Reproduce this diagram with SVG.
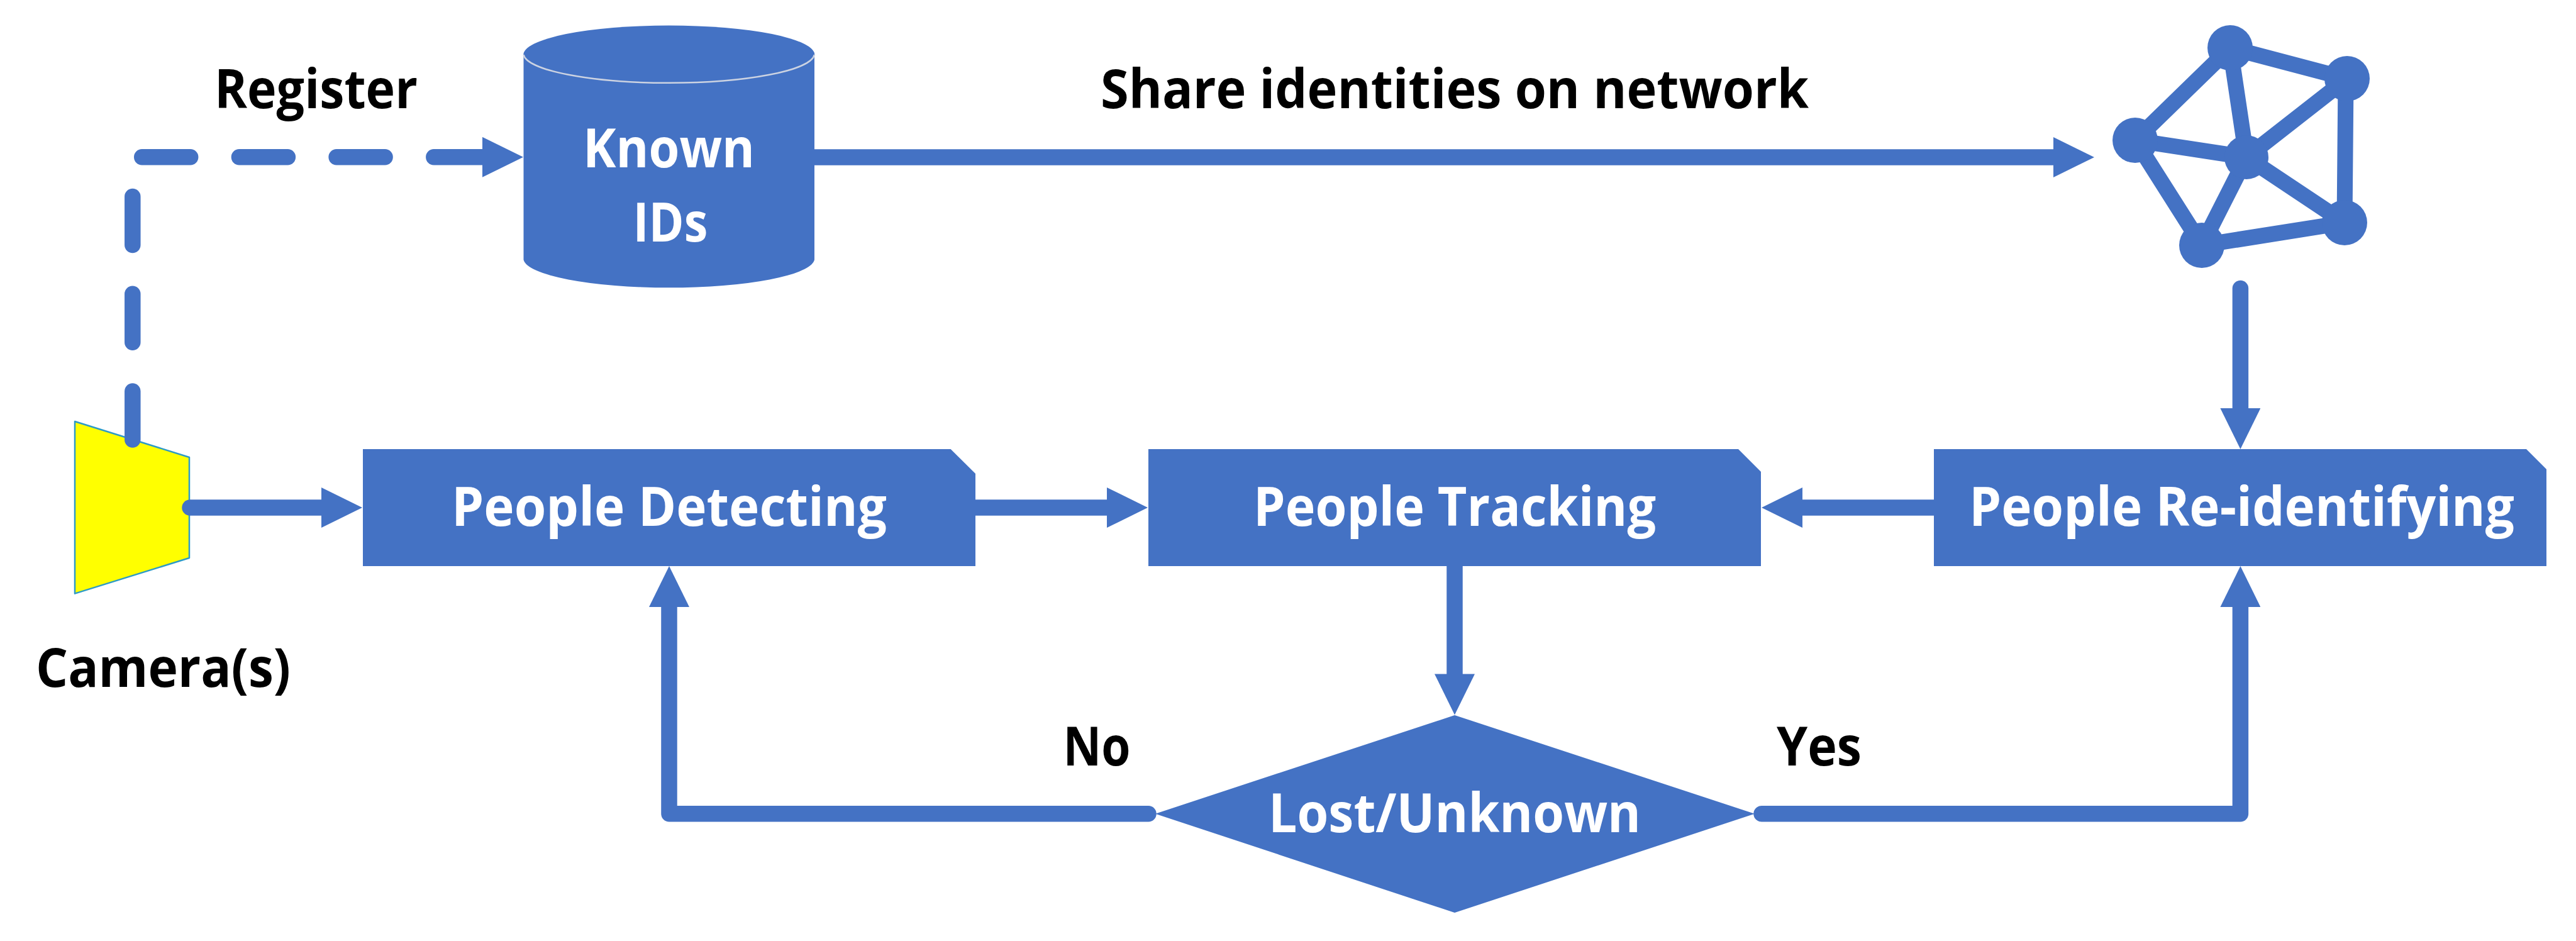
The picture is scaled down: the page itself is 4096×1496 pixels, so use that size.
<svg xmlns="http://www.w3.org/2000/svg" width="4096" height="1496" viewBox="0 0 4096 1496">
<style>
.s{fill:#4472c4}
.c{fill:none;stroke:#4472c4;stroke-width:25.5;stroke-linecap:round;stroke-linejoin:round}
.e{stroke:#4472c4;stroke-width:25;fill:none}
text{font-family:"Open Sans","Noto Sans","Liberation Sans",sans-serif;font-weight:700;font-size:86px}
.w{fill:#fff}
.k{fill:#000}
</style>
<defs>
<marker id="arrow" markerUnits="userSpaceOnUse" markerWidth="66" markerHeight="64" viewBox="0 0 66 64" refX="1" refY="32" orient="auto"><path d="M0 0L65 32L0 64Z" fill="#4472c4"/></marker>
</defs>
<rect width="4096" height="1496" fill="#fff"/>
<g id="camera">
<path d="M119 670L301 727V887L119 943.6Z" fill="#ff0" stroke="#2e9bc6" stroke-width="2.5" stroke-linejoin="round"/>
</g>
<g id="known-ids">
<path class="s" d="M832.5 87V413A231.5 46.5 0 0 0 1295 413V87Z"/>
<ellipse class="s" cx="1063.8" cy="87" rx="231.5" ry="46.5"/>
<path d="M832.5 87A231.5 47 0 0 0 1295 87" fill="none" stroke="#ccd3e2" stroke-width="2.5"/>
<text class="w" x="927" y="266" textLength="273" lengthAdjust="spacingAndGlyphs">Known</text>
<text class="w" x="1006.5" y="383.6" textLength="119" lengthAdjust="spacingAndGlyphs">IDs</text>
</g>
<g id="network">
<path class="e" d="M3546 76L3395 223M3546 76L3732 125M3546 76L3572 250M3395 223L3572 250M3395 223L3501 390M3572 250L3732 125M3572 250L3728 354M3572 250L3501 390M3730 125L3728 354M3501 390L3728 354"/>
<circle class="s" cx="3546" cy="76" r="36"/>
<circle class="s" cx="3732" cy="125" r="36"/>
<circle class="s" cx="3395" cy="223" r="36"/>
<circle class="s" cx="3572" cy="250" r="35"/>
<circle class="s" cx="3728" cy="354" r="36"/>
<circle class="s" cx="3501" cy="390" r="36"/>
</g>
<g id="people-detecting">
<path class="s" d="M577 714H1511.6L1551 753V900H577Z"/>
<text class="w" x="718" y="836" textLength="692" lengthAdjust="spacingAndGlyphs">People Detecting</text>
</g>
<g id="people-tracking">
<path class="s" d="M1826 714H2764L2800 750V900H1826Z"/>
<text class="w" x="1993" y="836" textLength="640" lengthAdjust="spacingAndGlyphs">People Tracking</text>
</g>
<g id="people-reidentifying">
<path class="s" d="M3075 714H4017L4049 746V900H3075Z"/>
<text class="w" x="3131" y="836" textLength="867" lengthAdjust="spacingAndGlyphs">People Re-identifying</text>
</g>
<g id="lost-unknown">
<path class="s" d="M2313 1137L2790 1293.7L2313 1451L1837 1293.7Z"/>
<text class="w" x="2017" y="1323" textLength="592" lengthAdjust="spacingAndGlyphs">Lost/Unknown</text>
</g>
<g id="connectors">
<path class="c" stroke-dasharray="77 77.7" d="M210.8 699V249.8H768" marker-end="url(#arrow)"/>
<path class="c" style="stroke-linecap:butt" d="M1295 250H3266" marker-end="url(#arrow)"/>
<path class="c" d="M3562.4 458.5V650" marker-end="url(#arrow)"/>
<path class="c" d="M302 807H512" marker-end="url(#arrow)"/>
<path class="c" style="stroke-linecap:butt" d="M1551 807H1761" marker-end="url(#arrow)"/>
<path class="c" style="stroke-linecap:butt" d="M3075 807H2865" marker-end="url(#arrow)"/>
<path class="c" style="stroke-linecap:butt" d="M2313 899.5V1072.4" marker-end="url(#arrow)"/>
<path class="c" d="M1826 1293.7H1064V964" marker-end="url(#arrow)"/>
<path class="c" d="M2801 1293.7H3562.4V964" marker-end="url(#arrow)"/>
</g>
<g id="labels">
<text class="k" x="341" y="172" textLength="323" lengthAdjust="spacingAndGlyphs">Register</text>
<text class="k" x="1750" y="172" textLength="1126" lengthAdjust="spacingAndGlyphs">Share identities on network</text>
<text class="k" x="57" y="1092" textLength="405" lengthAdjust="spacingAndGlyphs">Camera(s)</text>
<text class="k" x="1690.6" y="1217" textLength="107" lengthAdjust="spacingAndGlyphs">No</text>
<text class="k" x="2825" y="1217" textLength="135" lengthAdjust="spacingAndGlyphs">Yes</text>
</g>
</svg>
